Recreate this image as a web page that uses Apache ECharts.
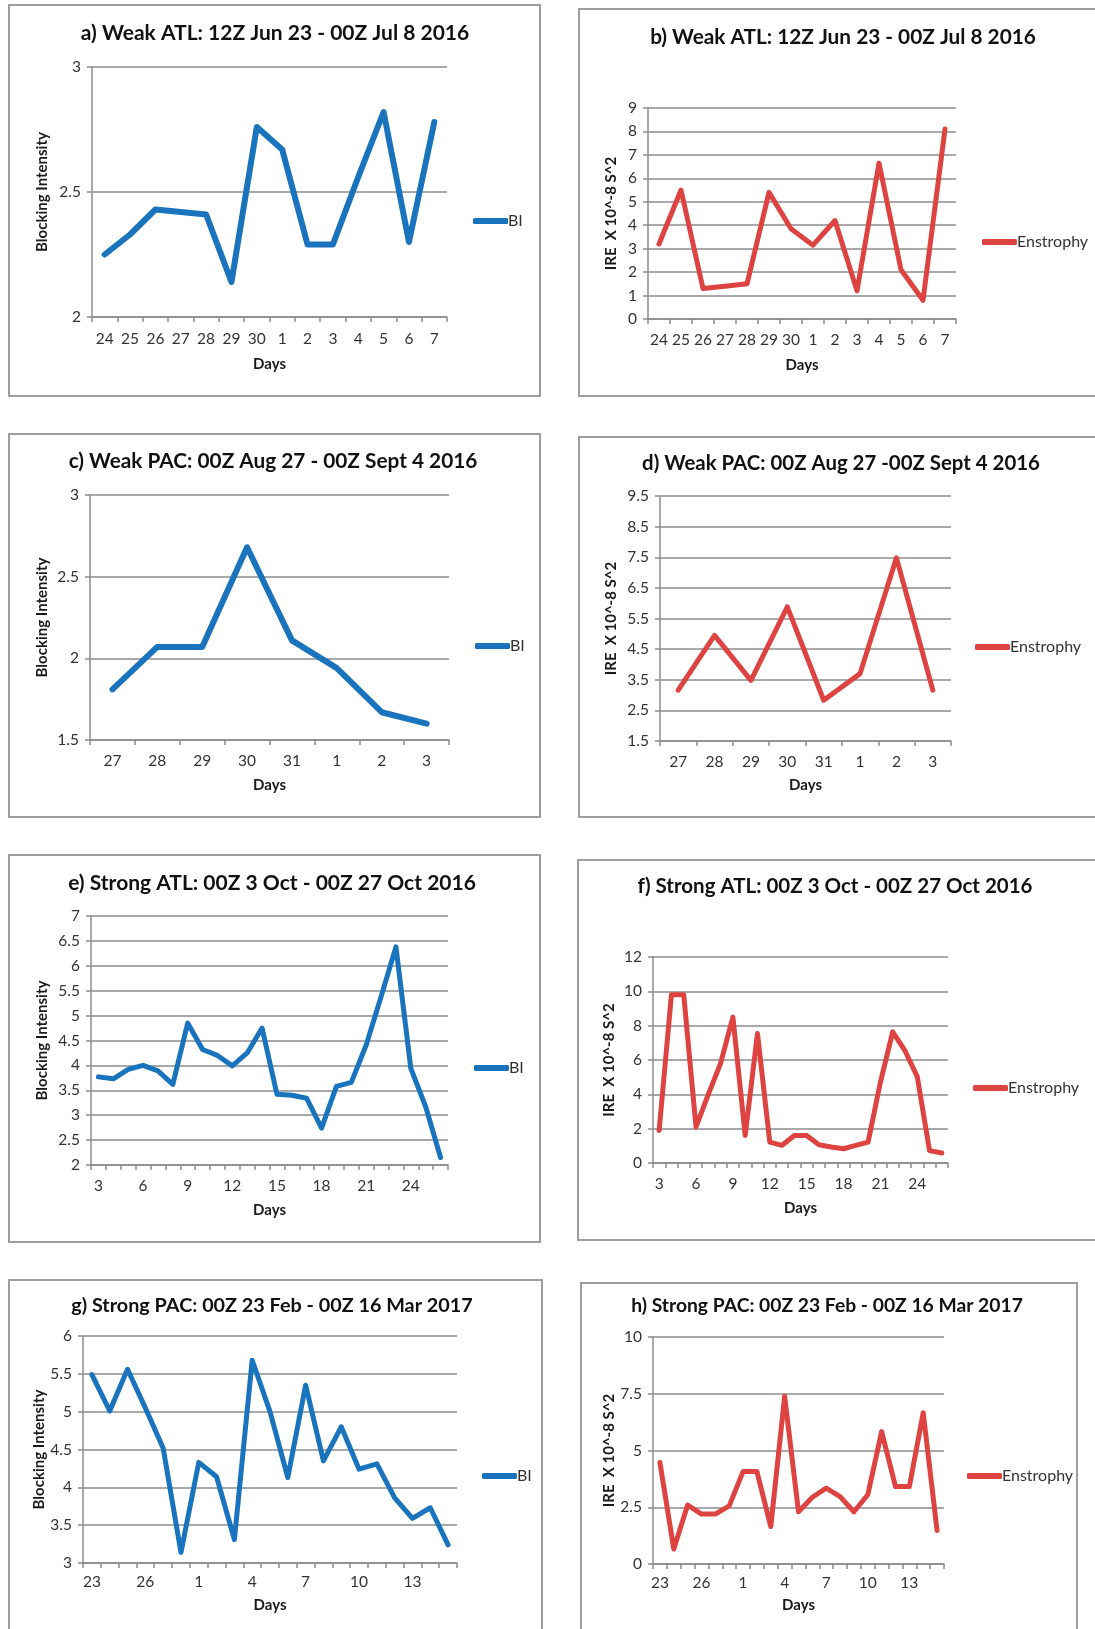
<!DOCTYPE html>
<html>
<head>
<meta charset="utf-8">
<script src="https://cdn.jsdelivr.net/npm/echarts@6/dist/echarts.min.js"></script>
<style>
  html, body { margin: 0; padding: 0; background: #ffffff; overflow: hidden; }
  #wrap { position: relative; width: 1095px; height: 1629px; }
  .box { position: absolute; border: 2px solid #9d9d9d; box-sizing: border-box; }
  #chart { position: absolute; left: 0; top: 0; width: 1095px; height: 1629px; }
</style>
</head>
<body>
<div id="wrap">
  <div class="box" style="left:8px;top:4px;width:533px;height:393px;"></div>
  <div class="box" style="left:578px;top:8px;width:540px;height:389px;"></div>
  <div class="box" style="left:8px;top:433px;width:533px;height:385px;"></div>
  <div class="box" style="left:578px;top:436px;width:540px;height:382px;"></div>
  <div class="box" style="left:8px;top:854px;width:533px;height:389px;"></div>
  <div class="box" style="left:577px;top:859px;width:540px;height:382px;"></div>
  <div class="box" style="left:8px;top:1279px;width:535px;height:400px;"></div>
  <div class="box" style="left:580px;top:1282px;width:498px;height:400px;"></div>
  <div id="chart"></div>
</div>
<script>
// ---------- data ----------
const daysWeakAtl = ['24','25','26','27','28','29','30','1','2','3','4','5','6','7'];
const biWeakAtl = [2.25, 2.33, 2.43, 2.42, 2.41, 2.14, 2.76, 2.67, 2.29, 2.29, 2.56, 2.82, 2.30, 2.78];
const ensWeakAtl = [3.2, 5.5, 1.3, 1.4, 1.5, 5.4, 3.85, 3.15, 4.2, 1.2, 6.65, 2.1, 0.8, 8.1];

const daysWeakPac = ['27','28','29','30','31','1','2','3'];
const biWeakPac = [1.81, 2.07, 2.07, 2.68, 2.11, 1.94, 1.67, 1.60];
const ensWeakPac = [3.16, 4.95, 3.48, 5.88, 2.83, 3.7, 7.48, 3.16];

const daysStrongAtl = ['3','4','5','6','7','8','9','10','11','12','13','14','15','16','17','18','19','20','21','22','23','24','25','26'];
const biStrongAtl = [3.77, 3.73, 3.92, 4.0, 3.89, 3.62, 4.85, 4.32, 4.2, 3.99, 4.25, 4.75, 3.42, 3.40, 3.34, 2.74, 3.58, 3.66, 4.41, 5.38, 6.38, 3.94, 3.17, 2.15];
const ensStrongAtl = [1.9, 9.8, 9.8, 2.1, 4.0, 5.8, 8.5, 1.6, 7.54, 1.22, 1.03, 1.6, 1.6, 1.06, 0.93, 0.83, 1.03, 1.22, 4.7, 7.64, 6.54, 5.03, 0.72, 0.58];

const daysStrongPac = ['23','24','25','26','27','28','1','2','3','4','5','6','7','8','9','10','11','12','13','14','15'];
const biStrongPac = [5.49, 5.01, 5.56, 5.05, 4.52, 3.14, 4.33, 4.14, 3.31, 5.68, 5.0, 4.13, 5.35, 4.35, 4.80, 4.24, 4.31, 3.86, 3.59, 3.73, 3.24];
const ensStrongPac = [4.47, 0.66, 2.6, 2.2, 2.2, 2.56, 4.07, 4.07, 1.65, 7.39, 2.3, 2.94, 3.34, 2.97, 2.3, 3.05, 5.83, 3.41, 3.41, 6.66, 1.48];

const titles = [
  'a) Weak ATL: 12Z Jun 23 - 00Z Jul 8 2016',
  'b) Weak ATL: 12Z Jun 23 - 00Z Jul 8 2016',
  'c) Weak PAC: 00Z Aug 27 - 00Z Sept 4 2016',
  'd) Weak PAC: 00Z Aug 27 -00Z Sept 4 2016',
  'e) Strong ATL: 00Z 3 Oct - 00Z 27 Oct 2016',
  'f) Strong ATL: 00Z 3 Oct - 00Z 27 Oct 2016',
  'g) Strong PAC: 00Z 23 Feb - 00Z 16 Mar 2017',
  'h) Strong PAC: 00Z 23 Feb - 00Z 16 Mar 2017'
];
const biName = 'BI';
const ensName = 'Enstrophy';
const biAxisTitle = 'Blocking Intensity';
const ensAxisTitle = 'IRE  X 10^-8 S^2';
const xAxisTitle = 'Days';

// y-axis ranges [min, max, interval]
const yRanges = [
  [2, 3, 0.5], [0, 9, 1],
  [1.5, 3, 0.5], [1.5, 9.5, 1],
  [2, 7, 0.5], [0, 12, 2],
  [3, 6, 0.5], [0, 10, 2.5]
];

// ---------- layout (style only) ----------
const BLUE = '#1a73bd';
const RED = '#dd4441';
const panels = [
  { cats: daysWeakAtl, data: biWeakAtl, name: biName, yname: biAxisTitle, color: BLUE, lw: 6,
    grid: [92, 67, 355, 250], title: [270, 18], tfs: 21, legend: [473, 213], labelInt: 0, lblM: 14, xGap: 40, yGap: 42 },
  { cats: daysWeakAtl, data: ensWeakAtl, name: ensName, yname: ensAxisTitle, color: RED, lw: 5,
    grid: [648, 108, 308, 211], title: [838, 22], tfs: 20.8, legend: [982, 234], labelInt: 0, lblM: 13, xGap: 39, yGap: 29 },
  { cats: daysWeakPac, data: biWeakPac, name: biName, yname: biAxisTitle, color: BLUE, lw: 6,
    grid: [90, 495, 359, 245], title: [268, 446], tfs: 20.8, legend: [475, 638], labelInt: 0, lblM: 13, xGap: 38, yGap: 40 },
  { cats: daysWeakPac, data: ensWeakPac, name: ensName, yname: ensAxisTitle, color: RED, lw: 5,
    grid: [660, 496, 291, 245], title: [836, 448], tfs: 20.4, legend: [975, 639], labelInt: 0, lblM: 13, xGap: 37, yGap: 41 },
  { cats: daysStrongAtl, data: biStrongAtl, name: biName, yname: biAxisTitle, color: BLUE, lw: 5,
    grid: [91, 916, 357, 249], title: [267, 868], tfs: 21, legend: [474, 1060], labelInt: 2, lblM: 13, xGap: 38, yGap: 41 },
  { cats: daysStrongAtl, data: ensStrongAtl, name: ensName, yname: ensAxisTitle, color: RED, lw: 5,
    grid: [653, 957, 295, 206], title: [830, 871], tfs: 20.5, legend: [973, 1080], labelInt: 2, lblM: 13, xGap: 38, yGap: 36 },
  { cats: daysStrongPac, data: biStrongPac, name: biName, yname: biAxisTitle, color: BLUE, lw: 5,
    grid: [83, 1336, 374, 227], title: [267, 1291], tfs: 19.8, legend: [482, 1468], labelInt: 2, lblM: 11, xGap: 35, yGap: 36 },
  { cats: daysStrongPac, data: ensStrongPac, name: ensName, yname: ensAxisTitle, color: RED, lw: 5,
    grid: [653, 1337, 291, 227], title: [822, 1291], tfs: 19.3, legend: [967, 1468], labelInt: 2, lblM: 11, xGap: 34, yGap: 35 }
];

const FONT = 'Lato, "Open Sans", sans-serif';
const GRIDC = '#8c8c8c';
const LBLC = '#333333';

const option = {
  animation: false,
  backgroundColor: 'transparent',
  title: [], grid: [], xAxis: [], yAxis: [], legend: [], series: []
};

panels.forEach((p, i) => {
  option.title.push({
    text: titles[i], left: p.title[0], top: p.title[1], textAlign: 'center',
    textStyle: { fontFamily: FONT, fontWeight: 'bold', fontSize: p.tfs, color: '#111' }
  });
  option.grid.push({ left: p.grid[0], top: p.grid[1], width: p.grid[2], height: p.grid[3], containLabel: false });
  option.xAxis.push({
    type: 'category', gridIndex: i, data: p.cats, boundaryGap: true,
    name: xAxisTitle, nameLocation: 'middle', nameGap: p.xGap,
    nameTextStyle: { fontFamily: FONT, fontWeight: 'bold', fontSize: 15, color: '#1a1a1a' },
    axisLine: { show: true, lineStyle: { color: GRIDC, width: 1.5 } },
    axisTick: { show: true, interval: 0, alignWithLabel: false, length: 5, lineStyle: { color: GRIDC, width: 1.5 } },
    axisLabel: { interval: p.labelInt, margin: p.lblM, fontFamily: FONT, fontSize: 15.5, color: LBLC },
    splitLine: { show: false }
  });
  const yr = yRanges[i];
  option.yAxis.push({
    type: 'value', gridIndex: i, min: yr[0], max: yr[1], interval: yr[2],
    name: p.yname, nameLocation: 'middle', nameGap: p.yGap, nameRotate: 90,
    nameTextStyle: { fontFamily: FONT, fontWeight: 'bold', fontSize: 15, color: '#1a1a1a' },
    axisLine: { show: true, lineStyle: { color: GRIDC, width: 1.5 } },
    axisTick: { show: true, length: 5, lineStyle: { color: GRIDC, width: 1.5 } },
    axisLabel: { margin: 11, fontFamily: FONT, fontSize: 15.5, color: LBLC },
    splitLine: { show: true, lineStyle: { color: GRIDC, width: 1.5 } }
  });
  option.legend.push({
    left: p.legend[0], top: p.legend[1], orient: 'vertical',
    data: [{ name: p.name, icon: 'roundRect', itemStyle: { color: p.color } }],
    itemWidth: 35, itemHeight: 6, itemGap: 0, padding: 0,
    textStyle: { fontFamily: FONT, fontSize: 16, color: LBLC, padding: [0, 0, 0, -5] },
    selectedMode: false
  });
  option.series.push({
    type: 'line', name: p.name, xAxisIndex: i, yAxisIndex: i, data: p.data,
    showSymbol: false, symbol: 'none', smooth: false,
    lineStyle: { color: p.color, width: p.lw, join: 'round', cap: 'round' },
    itemStyle: { color: p.color }
  });
});

const chart = echarts.init(document.getElementById('chart'), null, { renderer: 'canvas' });
chart.setOption(option);
</script>
</body>
</html>
